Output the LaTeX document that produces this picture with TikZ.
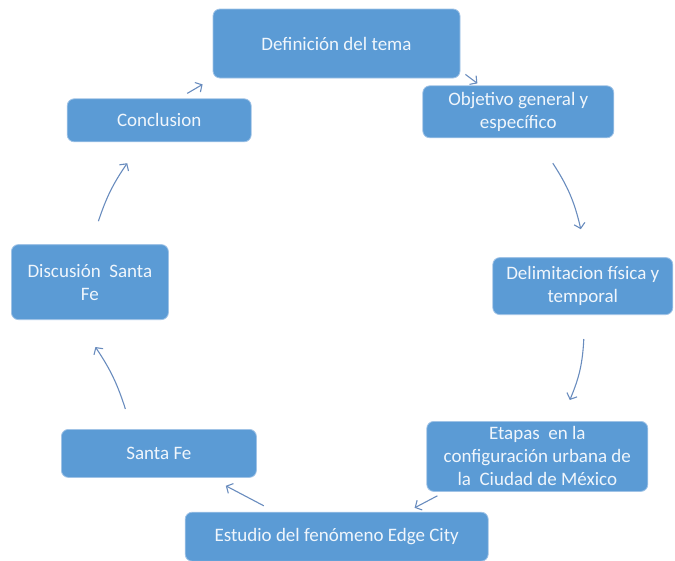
\documentclass[tikz,border=0pt]{standalone}
\usepackage{fontspec}
\setmainfont{Carlito}
\usetikzlibrary{arrows.meta}
\usetikzlibrary{positioning}
\definecolor{boxblue}{RGB}{91,155,213}
\definecolor{boxedge}{RGB}{160,195,230}
\definecolor{arrowblue}{RGB}{105,140,190}
\definecolor{labelwhite}{RGB}{240,246,252}

\begin{document}
\begin{tikzpicture}[x=1pt, y=-1pt,
  stage/.style={
    % The shape:
    rectangle, rounded corners=7pt,
    % The border and filling:
    draw=boxedge, line width=0.8pt, fill=boxblue,
    % Font
    font=\fontsize{19}{23}\selectfont, text=labelwhite,
    inner sep=0pt, align=center % required for the line breaks
  },
  >={Straight Barb[length=5pt,width=11pt]}, line width=1.1pt, arrowblue]

  \useasboundingbox (0,0) rectangle (675,560);

  \node (tema) [stage, minimum width=247pt, minimum height=69pt] at (336.5,43.5) {Definición del tema};
  \node (objetivo) [stage, minimum width=191pt, minimum height=52pt, below right = 7pt and -38pt of tema] {Objetivo general y\\ específico};
  \draw[->] ([xshift=5pt,yshift=4pt]tema.south east) -- ([xshift=55pt,yshift=2pt]objetivo.north west);

  \node (delim) [stage, minimum width=180pt, minimum height=57pt, below = 119pt of objetivo, xshift=64.5pt] {Delimitacion física y\\ temporal};
  \draw[->] ([xshift=34.5pt,yshift=-25pt]objetivo.south) to[bend left=10] ([xshift=-2pt,yshift=28pt]delim.north);

  \node (etapas) [stage, minimum width=221pt, minimum height=70pt, below = 106pt of delim, xshift=-45.5pt] {Etapas~ en la\\ configuración urbana de\\ la~ Ciudad de México};
  \draw[->] ([xshift=1pt,yshift=-24pt]delim.south) to[bend left=10] ([xshift=32.5pt,yshift=21pt]etapas.north);

  \node (concl) [stage, minimum width=184pt, minimum height=43pt, below left = 20pt and -39pt of tema] {Conclusion};
  \node (disc) [stage, minimum width=157pt, minimum height=75pt, below left = 102pt and -102pt of concl] {Discusión~ Santa\\ Fe};
  \node (santa) [stage, minimum width=195pt, minimum height=48pt, below = 109pt of disc, xshift=69pt] {Santa Fe};
  \node (estudio) [stage, minimum width=303pt, minimum height=49pt, below right = 34pt and -72pt of santa] {Estudio del fenómeno Edge City};

  \draw[->] ([xshift=11pt,yshift=-4pt]etapas.south west) -- ([xshift=-74pt,yshift=4pt]estudio.north east);
  \draw[->] ([xshift=79pt,yshift=6pt]estudio.north west) -- ([xshift=-31pt,yshift=-8pt]santa.south east);
  \draw[->] ([xshift=-33.5pt,yshift=20pt]santa.north) to[bend right=8] ([xshift=5.5pt,yshift=-27pt]disc.south);
  \draw[->] ([xshift=8.5pt,yshift=23pt]disc.north) to[bend left=8] ([xshift=-32pt,yshift=-21pt]concl.south);
  \draw[->] ([xshift=28pt,yshift=5pt]concl.north) -- ([xshift=-10pt,yshift=-6pt]tema.south west);
\end{tikzpicture}
\end{document}
